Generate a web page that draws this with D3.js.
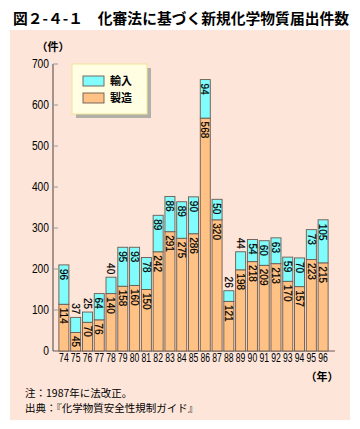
<!DOCTYPE html>
<html><head><meta charset="utf-8">
<script src="https://cdn.jsdelivr.net/npm/d3@7"></script>
<style>body{margin:0;background:#fff}svg{display:block}</style>
</head><body>
<svg id="c" width="360" height="429"></svg>
<script>
const years = ["74","75","76","77","78","79","80","81","82","83","84","85","86","87","88","89","90","91","92","93","94","95","96"];
const manufacture = [114,45,70,76,140,158,160,150,242,291,275,286,568,320,121,198,218,209,213,170,157,223,215];
const imports = [96,37,25,64,40,95,93,78,89,86,89,90,94,50,26,44,54,60,63,59,70,73,105];
const yTicks = [0,100,200,300,400,500,600,700];
const seriesNames = ["輸入","製造"];
const colors = {imp:"#80fcfc", man:"#ffc184"};

const svg = d3.select("#c");
const font = "'Liberation Sans', Arial, sans-serif";
const jfont = "'Noto Sans CJK JP', sans-serif";

// panel
svg.append("rect").attr("x",10).attr("y",30).attr("width",340).attr("height",390).attr("fill","#fde5d9");

// title
svg.append("text").attr("x",13).attr("y",24).attr("font-family",jfont).attr("font-weight","bold")
  .attr("font-size",14.5).attr("textLength",336).attr("lengthAdjust","spacingAndGlyphs")
  .text("図２-４-１　化審法に基づく新規化学物質届出件数");

const x = d3.scaleBand().domain(years).range([58,329]).paddingInner(0.15).paddingOuter(0.075);
const y = d3.scaleLinear().domain([0,700]).range([351,64]);

// axes
const axisColor = "#6b5a55";
svg.append("line").attr("x1",53).attr("x2",53).attr("y1",y(700)).attr("y2",y(0)).attr("stroke",axisColor).attr("stroke-width",1.2);
svg.append("line").attr("x1",53).attr("x2",335).attr("y1",y(0)).attr("y2",y(0)).attr("stroke",axisColor).attr("stroke-width",1.2);
const yt = svg.append("g");
yTicks.forEach(t=>{
  if(t>0) yt.append("line").attr("x1",53).attr("x2",58).attr("y1",y(t)).attr("y2",y(t)).attr("stroke","#999");
  yt.append("text").attr("transform",`translate(49,${y(t)}) scale(0.82,1)`).attr("dy","0.35em").attr("text-anchor","end")
    .attr("font-family",font).attr("font-size",12.5).text(t);
});
svg.append("text").attr("x",53).attr("y",51).attr("text-anchor","middle").attr("font-family",jfont)
  .attr("font-size",11).attr("font-weight","bold").text("（件）");

// x labels
years.forEach(yr=>{
  svg.append("text").attr("transform",`translate(${x(yr)+x.bandwidth()/2},361.5) scale(0.72,1)`).attr("text-anchor","middle")
    .attr("font-family",font).attr("font-size",12).text(yr);
});
svg.append("text").attr("x",322).attr("y",381).attr("text-anchor","middle").attr("font-family",jfont)
  .attr("font-size",11).attr("font-weight","bold").text("（年）");

// bars
const g = svg.append("g");
years.forEach((yr,i)=>{
  const m = manufacture[i], im = imports[i];
  const bx = x(yr), bw = x.bandwidth(), cx = bx + bw/2;
  g.append("rect").attr("x",bx).attr("y",y(m)).attr("width",bw).attr("height",y(0)-y(m))
    .attr("fill",colors.man).attr("stroke","#6a5a50").attr("stroke-width",0.9);
  g.append("rect").attr("x",bx).attr("y",y(m+im)).attr("width",bw).attr("height",y(m)-y(m+im))
    .attr("fill",colors.imp).attr("stroke","#6a5a50").attr("stroke-width",0.9);
  const lab = (val, yy, anchor) => g.append("text")
    .attr("transform",`translate(${cx-0.3},${yy}) rotate(90)`)
    .attr("text-anchor",anchor).attr("dominant-baseline","central")
    .attr("font-family",font).attr("font-size",10).attr("stroke","#000").attr("stroke-width",0.2).text(val);
  lab(m, y(m)+3.5, "start");
  if (im >= 45) lab(im, y(m+im)+4, "start");
  else lab(im, y(m+im)-3, "end");
});

// legend
svg.append("rect").attr("x",76).attr("y",68).attr("width",75).attr("height",50).attr("fill","#b0b0a8");
svg.append("rect").attr("x",72).attr("y",64).attr("width",75).attr("height",50).attr("fill","#fffde2").attr("stroke","#f2e69a").attr("stroke-width",1);
const legItems = [["輸入",colors.imp],["製造",colors.man]];
legItems.forEach((d,i)=>{
  svg.append("rect").attr("x",83).attr("y",76+i*17).attr("width",21).attr("height",10).attr("fill",d[1]).attr("stroke","#6a5a50").attr("stroke-width",0.9);
  svg.append("text").attr("x",110).attr("y",85+i*17).attr("font-family",jfont).attr("font-size",11).attr("font-weight","bold").text(d[0]);
});

// notes
svg.append("text").attr("x",25).attr("y",397).attr("font-family",jfont).attr("font-size",10.5).text("注：1987年に法改正。");
svg.append("text").attr("x",25).attr("y",412).attr("font-family",jfont).attr("font-size",10.5).text("出典：『化学物質安全性規制ガイド』");
</script>
</body></html>
